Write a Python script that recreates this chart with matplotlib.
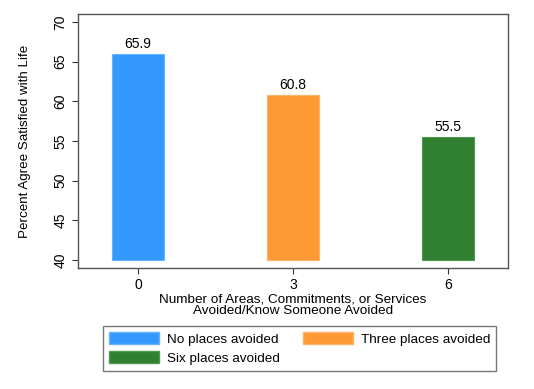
import matplotlib.pyplot as plt
from matplotlib.patches import Patch

plt.rcParams['font.family'] = ['Liberation Sans', 'DejaVu Sans']

# data
places = [0, 3, 6]
pct_satisfied = [65.9, 60.8, 55.5]
labels = ['No places avoided', 'Three places avoided', 'Six places avoided']
colors = ['#3399ff', '#ff9933', '#317f31']
edges = ['#66b3ff', '#ffb366', '#4f9a4f']

fig = plt.figure(figsize=(5.34, 3.89), dpi=100)
ax = fig.add_axes([0.146, 0.311, 0.805, 0.653])

for x, v, c, e in zip(places, pct_satisfied, colors, edges):
    ax.bar(x, v - 40, bottom=40, width=1.0, color=c, edgecolor=e, linewidth=0.8)
    ax.text(x, v + 0.4, f'{v:.1f}', ha='center', va='bottom', fontsize=10)

ax.set_xlim(-1.16, 7.16)
ax.set_ylim(39, 71)
ax.set_xticks(places)
ax.set_yticks(range(40, 71, 5))
ax.tick_params(axis='both', labelsize=10, direction='out', length=4, color='#333333')
for lbl in ax.get_yticklabels():
    lbl.set_rotation(90)
    lbl.set_va('center')
for sp in ax.spines.values():
    sp.set_color('#555555')
    sp.set_linewidth(1.0)

ax.set_xlabel('Number of Areas, Commitments, or Services\nAvoided/Know Someone Avoided',
              fontsize=9.7, linespacing=0.95, labelpad=1)
ax.set_ylabel('Percent Agree Satisfied with Life', fontsize=9.6, labelpad=16)

# legend order: No / Six in first column, Three in second
handles = [Patch(facecolor=c, edgecolor=e) for c, e in zip(colors, edges)]
order = [0, 2, 1]
leg = fig.legend([handles[i] for i in order], [labels[i] for i in order],
                 ncol=2, loc='center', bbox_to_anchor=(0.561, 0.104),
                 fontsize=9.7, frameon=True, fancybox=False,
                 handlelength=3.7, handleheight=1.0, columnspacing=1.7,
                 handletextpad=0.6, borderpad=0.45, labelspacing=0.4)
leg.get_frame().set_edgecolor('#555555')
leg.get_frame().set_linewidth(1.0)

fig.savefig('out.png', dpi=100)
